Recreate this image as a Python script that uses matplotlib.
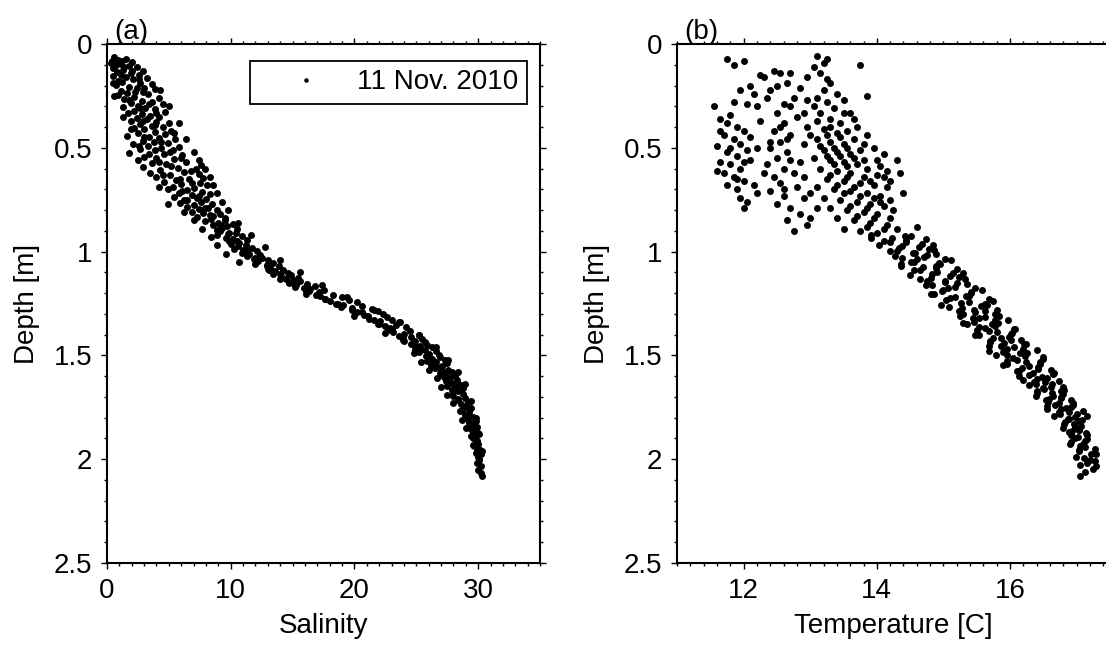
import matplotlib
matplotlib.use("Agg")
import matplotlib.pyplot as plt
from matplotlib.ticker import MultipleLocator, FuncFormatter

plt.rcParams['font.family'] = ['Liberation Sans', 'DejaVu Sans']

# ---------------- Panel (a): salinity profile ----------------
depth_a = [
    0.062, 0.070, 0.075, 0.083, 0.088, 0.094, 0.101, 0.105, 0.112, 0.118,
    0.124, 0.128, 0.135, 0.140, 0.147, 0.152, 0.158, 0.163, 0.170, 0.176,
    0.181, 0.188, 0.193, 0.199, 0.205, 0.212, 0.218, 0.224, 0.230, 0.236,
    0.242, 0.248, 0.255, 0.261, 0.266, 0.273, 0.279, 0.284, 0.291, 0.297,
    0.303, 0.309, 0.315, 0.321, 0.327, 0.333, 0.339, 0.345, 0.351, 0.357,
    0.363, 0.369, 0.375, 0.381, 0.387, 0.393, 0.399, 0.405, 0.411, 0.417,
    0.423, 0.429, 0.435, 0.441, 0.447, 0.453, 0.459, 0.465, 0.471, 0.477,
    0.483, 0.489, 0.495, 0.501, 0.507, 0.513, 0.519, 0.525, 0.531, 0.537,
    0.543, 0.549, 0.555, 0.561, 0.567, 0.573, 0.579, 0.585, 0.591, 0.597,
    0.603, 0.609, 0.615, 0.621, 0.627, 0.633, 0.639, 0.645, 0.651, 0.657,
    0.663, 0.669, 0.675, 0.681, 0.687, 0.693, 0.699, 0.705, 0.711, 0.717,
    0.723, 0.729, 0.735, 0.741, 0.747, 0.753, 0.759, 0.765, 0.771, 0.777,
    0.783, 0.789, 0.795, 0.801, 0.807, 0.813, 0.819, 0.825, 0.831, 0.837,
    0.843, 0.849, 0.855, 0.861, 0.867, 0.873, 0.879, 0.885, 0.891, 0.897,
    0.903, 0.909, 0.915, 0.921, 0.927, 0.933, 0.939, 0.945, 0.951, 0.957,
    0.963, 0.969, 0.975, 0.981, 0.987, 0.993, 0.999, 1.005, 1.011, 1.017,
    1.023, 1.029, 1.035, 1.041, 1.047, 1.053, 1.059, 1.065, 1.071, 1.077,
    1.083, 1.089, 1.095, 1.101, 1.107, 1.113, 1.119, 1.125, 1.131, 1.137,
    1.143, 1.149, 1.155, 1.161, 1.167, 1.173, 1.179, 1.185, 1.191, 1.197,
    1.203, 1.209, 1.215, 1.221, 1.227, 1.233, 1.239, 1.245, 1.251, 1.257,
    1.263, 1.269, 1.275, 1.281, 1.287, 1.293, 1.299, 1.305, 1.311, 1.317,
    1.323, 1.329, 1.335, 1.341, 1.347, 1.353, 1.359, 1.365, 1.371, 1.377,
    1.383, 1.389, 1.395, 1.401, 1.407, 1.413, 1.419, 1.425, 1.431, 1.437,
    1.443, 1.449, 1.455, 1.461, 1.467, 1.473, 1.479, 1.485, 1.491, 1.497,
    1.503, 1.509, 1.515, 1.521, 1.527, 1.533, 1.539, 1.545, 1.551, 1.557,
    1.563, 1.569, 1.575, 1.581, 1.587, 1.593, 1.599, 1.605, 1.611, 1.617,
    1.623, 1.629, 1.635, 1.641, 1.647, 1.653, 1.659, 1.665, 1.671, 1.677,
    1.685, 1.695, 1.705, 1.715, 1.725, 1.735, 1.745, 1.755, 1.765, 1.775,
    1.785, 1.795, 1.805, 1.815, 1.825, 1.835, 1.845, 1.855, 1.865, 1.875,
    1.888, 1.900, 1.912, 1.925, 1.938, 1.950, 1.962, 1.975, 1.990, 2.005,
    2.020, 2.035, 2.050, 2.065, 2.080,
]
salinity_a = [
    0.6, 1.5, 0.9, 0.4, 2.0, 1.1, 0.7, 1.8, 2.4, 0.5,
    1.3, 2.9, 0.8, 1.9, 2.6, 0.5, 1.5, 3.2, 2.1, 0.9,
    1.2, 2.7, 3.6, 0.7, 1.8, 2.4, 3.9, 1.1, 2.9, 1.6,
    3.3, 0.9, 2.2, 4.2, 1.4, 2.8, 3.6, 1.9, 4.5, 2.5,
    1.3, 3.1, 3.9, 2.2, 4.7, 1.7, 2.8, 3.5, 4.2, 2.4,
    3.2, 1.9, 4.0, 5.0, 2.7, 3.6, 4.5, 2.2, 3.0, 5.2,
    3.9, 2.5, 4.7, 1.6, 3.4, 4.2, 5.5, 2.9, 3.8, 4.9,
    2.1, 3.3, 5.8, 4.4, 2.7, 3.9, 5.1, 1.8, 4.6, 6.1,
    3.0, 4.0, 5.4, 2.5, 6.4, 3.6, 4.8, 7.6, 2.9, 5.7,
    7.9, 4.3, 6.2, 3.5, 7.4, 5.1, 4.0, 7.8, 6.6, 5.6,
    4.6, 7.5, 6.0, 8.1, 5.3, 7.0, 4.9, 6.5, 7.7, 5.8,
    8.3, 6.9, 5.4, 7.3, 8.0, 6.2, 7.6, 5.9, 8.5, 7.0,
    6.5, 8.2, 7.4, 8.9, 6.9, 7.8, 9.1, 8.3, 7.3, 9.5,
    8.4, 9.5, 7.9, 9.0, 10.2, 8.6, 9.7, 9.3, 10.5, 8.9,
    9.1, 10.4, 9.8, 8.9, 10.9, 9.6, 10.2, 11.3, 9.9, 10.7,
    10.0, 11.2, 10.6, 11.7, 10.3, 11.0, 12.1, 10.9, 11.5, 12.4,
    11.3, 12.5, 11.9, 13.0, 12.2, 13.4, 12.0, 12.9, 13.9, 13.2,
    13.0, 14.2, 13.6, 14.6, 13.4, 14.9, 14.1, 15.4, 14.5, 15.0,
    15.6, 14.7, 16.2, 15.3, 16.8, 15.9, 16.4, 17.5, 16.1, 17.1,
    16.1, 18.3, 17.2, 19.0, 17.6, 19.6, 18.0, 20.2, 18.7, 19.1,
    20.6, 18.9, 21.4, 19.8, 21.9, 20.2, 22.3, 20.8, 21.1, 22.6,
    21.2, 23.0, 22.1, 23.7, 21.9, 23.4, 22.5, 24.2, 23.0, 22.7,
    24.5, 23.1, 24.0, 25.2, 23.6, 24.6, 25.5, 23.9, 24.9, 25.7,
    24.6, 25.9, 25.3, 26.3, 24.9, 25.7, 26.6, 25.2, 26.0, 26.8,
    25.8, 26.9, 26.3, 27.3, 25.9, 26.6, 27.5, 26.2, 27.1, 26.7,
    26.5, 27.6, 27.1, 27.9, 26.9, 27.4, 28.1, 27.2, 27.7, 28.3,
    27.4, 28.3, 27.8, 28.6, 27.5, 28.1, 28.8, 27.9, 28.4, 28.0,
    28.8, 28.0, 28.9, 28.4, 29.2, 28.6, 29.0, 29.4, 28.7, 29.3,
    28.9, 29.6, 29.2, 29.8, 29.3, 29.5, 29.9, 29.4, 29.7, 30.0,
    29.8, 29.6, 29.9, 30.0, 29.7, 30.1, 29.9, 30.2, 30.0, 30.1,
    29.9, 30.2, 30.0, 30.2, 30.3,
]
depth_a2 = [
    0.08, 0.09, 0.11, 0.13, 0.15, 0.17, 0.19, 0.21, 0.23, 0.25,
    0.27, 0.29, 0.31, 0.33, 0.35, 0.37, 0.39, 0.41, 0.43, 0.45,
    0.47, 0.49, 0.51, 0.53, 0.55, 0.57, 0.59, 0.61, 0.63, 0.65,
    0.67, 0.69, 0.71, 0.73, 0.75, 0.77, 0.79, 0.81, 0.83, 0.85,
    0.87, 0.89, 0.91, 0.93, 0.95, 0.97, 0.99, 1.01, 1.03, 1.05,
    1.07, 1.09, 1.11, 1.13, 1.15, 1.17, 1.19, 1.21, 1.23, 1.25,
    1.27, 1.29, 1.31, 1.33, 1.35, 1.37, 1.39, 1.41, 1.43, 1.45,
    1.47, 1.49, 1.51, 1.53, 1.55, 1.57, 1.59, 1.61, 1.63, 1.65,
    1.67, 1.69, 1.71, 1.73, 1.75, 1.77, 1.79, 1.81, 1.83, 1.85,
    1.87, 1.89, 1.91, 1.93, 1.95, 1.97, 2.00, 0.22, 0.30, 0.38,
    0.46, 0.52, 0.56, 0.60, 0.64, 0.68, 0.72, 0.76, 0.80, 0.86,
    0.92, 0.98, 1.04, 1.10, 1.16, 1.22, 1.28, 1.34, 1.40, 1.46,
    1.52, 1.58, 1.64, 1.72, 1.80, 1.88, 1.96,
]
salinity_a2 = [
    1.2, 0.3, 1.4, 2.0, 1.1, 2.6, 0.5, 3.0, 2.3, 0.6,
    1.8, 3.4, 2.7, 4.0, 1.3, 2.9, 3.9, 1.9, 5.4, 3.0,
    4.4, 2.6, 5.3, 3.4, 6.0, 4.2, 5.2, 6.8, 4.5, 5.9,
    6.9, 4.2, 6.1, 7.4, 6.5, 4.9, 7.9, 6.2, 8.6, 7.0,
    9.2, 7.7, 9.9, 8.4, 10.5, 8.9, 11.3, 9.6, 12.0, 10.7,
    12.9, 13.1, 14.0, 14.0, 15.0, 15.2, 16.3, 16.9, 17.6, 18.5,
    19.8, 20.6, 20.0, 21.6, 22.0, 22.9, 22.5, 23.9, 24.0, 24.9,
    25.3, 24.8, 26.0, 25.4, 26.5, 26.0, 27.0, 26.7, 27.5, 27.0,
    28.0, 27.5, 28.4, 28.0, 28.9, 28.5, 29.1, 28.7, 29.5, 29.0,
    29.6, 29.4, 29.9, 29.6, 30.0, 29.8, 30.1, 4.3, 5.0, 5.8,
    6.4, 7.0, 7.4, 7.2, 8.3, 8.6, 8.9, 9.3, 9.8, 10.6,
    11.6, 12.8, 14.0, 15.6, 17.4, 19.4, 21.6, 23.6, 25.2, 26.6,
    27.6, 28.4, 28.9, 29.4, 29.8, 30.1, 30.3,
]

# ---------------- Panel (b): temperature profile ----------------
# upper, mixed part of the profile
temperature_b_up = [
    11.75, 11.85, 12.00, 12.25, 12.30, 12.45, 12.55, 12.70, 12.10, 11.95,
    12.15, 12.05, 12.40, 12.50, 12.65, 12.85, 12.95, 13.05, 13.10, 13.20,
    13.25, 13.15, 13.25, 13.75, 13.85, 12.95, 13.10, 13.20, 13.30, 12.75,
    12.60, 11.55, 11.85, 11.65, 11.75, 11.80, 11.90, 12.00, 11.70, 11.85,
    11.95, 12.10, 11.60, 11.75, 11.90, 12.05, 11.65, 11.80, 11.95, 12.10,
    11.70, 11.85, 12.00, 11.75, 11.90, 12.15, 11.95, 12.05, 12.00, 12.20,
    11.60, 12.20, 12.25, 12.50, 12.60, 12.45, 12.70, 12.55, 12.40, 12.65,
    12.50, 12.35, 12.60, 12.75, 12.45, 12.55, 12.80, 12.40, 12.60, 12.90,
    12.50, 12.70, 12.85, 12.65, 12.95, 12.75, 13.00, 12.30, 12.85, 12.90,
    12.80, 12.95, 12.70, 13.05, 13.15, 13.25, 13.35, 13.10, 13.30, 13.45,
    13.20, 13.40, 13.55, 13.10, 13.30, 13.50, 13.65, 13.20, 13.40, 13.60,
    13.75, 13.05, 13.30, 13.50, 13.70, 13.15, 13.40, 13.60, 13.85, 14.05,
    14.15, 14.10, 14.20, 14.00, 14.15, 13.25, 13.50, 13.75, 13.95, 13.10,
    13.35, 13.60, 13.85, 14.05, 13.20, 13.45, 13.70, 13.90, 14.10, 13.30,
    13.55, 13.80, 14.00, 14.25, 13.40, 13.65, 13.90, 14.15, 13.50, 13.75,
    14.00, 14.30, 13.60, 13.50, 13.40, 13.70, 13.85, 13.95, 14.10, 14.30,
    14.40, 14.35, 13.00, 13.25, 13.45, 13.15, 13.35, 13.55, 13.25, 13.45,
    13.65, 13.35, 13.55, 13.80, 13.30, 13.55, 13.80, 13.40, 13.65, 13.90,
    13.50, 13.75, 13.95, 13.60, 13.85, 14.05, 13.70, 13.95, 14.20, 13.85,
    14.10, 12.90, 13.00, 13.10, 12.60, 12.70, 12.65, 12.55, 12.90, 13.30,
    13.50, 13.65, 13.80, 14.00, 14.20, 12.35, 12.20, 12.40, 11.80, 12.00,
    11.90, 11.65, 14.60,
]
depth_b_up = [
    0.07, 0.10, 0.08, 0.15, 0.16, 0.13, 0.14, 0.14, 0.20, 0.22,
    0.24, 0.29, 0.22, 0.20, 0.19, 0.21, 0.16, 0.11, 0.06, 0.09,
    0.07, 0.14, 0.17, 0.10, 0.25, 0.27, 0.26, 0.22, 0.19, 0.26,
    0.29, 0.30, 0.28, 0.36, 0.38, 0.34, 0.40, 0.42, 0.44, 0.46,
    0.48, 0.45, 0.49, 0.52, 0.54, 0.51, 0.57, 0.58, 0.60, 0.56,
    0.62, 0.64, 0.66, 0.68, 0.70, 0.68, 0.74, 0.76, 0.79, 0.72,
    0.61, 0.50, 0.37, 0.33, 0.38, 0.42, 0.44, 0.47, 0.50, 0.52,
    0.55, 0.58, 0.60, 0.62, 0.64, 0.67, 0.69, 0.71, 0.73, 0.74,
    0.77, 0.79, 0.82, 0.85, 0.87, 0.90, 0.84, 0.62, 0.57, 0.48,
    0.35, 0.40, 0.30, 0.30, 0.33, 0.28, 0.31, 0.37, 0.36, 0.38,
    0.41, 0.43, 0.42, 0.46, 0.47, 0.48, 0.46, 0.51, 0.52, 0.53,
    0.51, 0.55, 0.56, 0.57, 0.58, 0.60, 0.61, 0.62, 0.60, 0.59,
    0.61, 0.64, 0.66, 0.63, 0.69, 0.65, 0.66, 0.67, 0.68, 0.69,
    0.70, 0.71, 0.72, 0.73, 0.74, 0.75, 0.76, 0.77, 0.78, 0.79,
    0.80, 0.81, 0.82, 0.80, 0.84, 0.85, 0.86, 0.87, 0.89, 0.90,
    0.91, 0.89, 0.33, 0.27, 0.24, 0.40, 0.44, 0.50, 0.53, 0.56,
    0.72, 0.62, 0.44, 0.44, 0.45, 0.49, 0.50, 0.50, 0.54, 0.54,
    0.55, 0.58, 0.59, 0.56, 0.63, 0.64, 0.64, 0.68, 0.69, 0.66,
    0.72, 0.73, 0.74, 0.78, 0.79, 0.76, 0.83, 0.84, 0.84, 0.88,
    0.89, 0.64, 0.72, 0.79, 0.70, 0.56, 0.46, 0.40, 0.33, 0.40,
    0.33, 0.36, 0.48, 0.56, 0.75, 0.26, 0.30, 0.47, 0.50, 0.57,
    0.65, 0.42, 0.88,
]
# lower, well-ordered part of the profile
temperature_b_low = [
    13.91, 14.43, 14.23, 14.74, 14.10, 14.44, 14.68, 14.03, 14.64, 14.34,
    14.86, 14.30, 14.55, 14.89, 14.28, 14.71, 14.60, 15.11, 14.51, 14.94,
    14.37, 14.89, 14.69, 15.20, 14.56, 14.90, 15.14, 14.50, 15.10, 14.81,
    15.33, 14.76, 15.02, 15.36, 14.74, 15.18, 15.07, 15.58, 14.98, 15.42,
    14.86, 15.38, 15.17, 15.69, 15.04, 15.38, 15.62, 14.97, 15.57, 15.28,
    15.80, 15.23, 15.48, 15.77, 15.25, 15.63, 15.53, 15.97, 15.46, 15.82,
    15.35, 15.78, 15.62, 16.06, 15.51, 15.80, 16.02, 15.47, 15.98, 15.74,
    16.17, 15.70, 15.91, 16.21, 15.69, 16.06, 15.96, 16.41, 15.90, 16.26,
    15.79, 16.22, 16.05, 16.50, 15.95, 16.24, 16.45, 15.90, 16.42, 16.18,
    16.61, 16.14, 16.35, 16.65, 16.13, 16.48, 16.41, 16.73, 16.36, 16.63,
    16.29, 16.61, 16.49, 16.81, 16.41, 16.63, 16.79, 16.39, 16.77, 16.59,
    16.91, 16.57, 16.73, 16.95, 16.56, 16.84, 16.77, 17.10, 16.73, 17.00,
    16.66, 16.97, 16.87, 17.08, 16.82, 16.96, 17.06, 16.80, 17.04, 16.93,
    17.14, 16.92, 17.02, 17.16, 16.92, 17.10, 17.05, 17.27, 17.03, 17.21,
    16.99, 17.20, 17.16, 17.29, 17.25, 17.12, 17.05,
]
depth_b_low = [
    0.920, 0.927, 0.935, 0.941, 0.950, 0.956, 0.963, 0.970, 0.978, 0.984,
    0.991, 0.999, 1.006, 1.012, 1.020, 1.027, 1.034, 1.040, 1.048, 1.055,
    1.062, 1.069, 1.076, 1.083, 1.091, 1.098, 1.104, 1.112, 1.119, 1.126,
    1.133, 1.141, 1.148, 1.155, 1.162, 1.170, 1.177, 1.184, 1.191, 1.199,
    1.206, 1.213, 1.221, 1.228, 1.235, 1.243, 1.250, 1.257, 1.264, 1.272,
    1.279, 1.286, 1.293, 1.300, 1.308, 1.315, 1.322, 1.330, 1.337, 1.344,
    1.351, 1.358, 1.366, 1.373, 1.380, 1.388, 1.395, 1.402, 1.409, 1.417,
    1.424, 1.431, 1.438, 1.446, 1.453, 1.460, 1.468, 1.475, 1.482, 1.489,
    1.497, 1.504, 1.511, 1.519, 1.526, 1.533, 1.540, 1.548, 1.555, 1.562,
    1.570, 1.577, 1.584, 1.592, 1.599, 1.606, 1.614, 1.621, 1.628, 1.636,
    1.643, 1.650, 1.658, 1.665, 1.672, 1.680, 1.687, 1.694, 1.702, 1.709,
    1.716, 1.724, 1.731, 1.738, 1.746, 1.753, 1.760, 1.768, 1.775, 1.782,
    1.790, 1.797, 1.805, 1.813, 1.822, 1.830, 1.839, 1.848, 1.857, 1.866,
    1.876, 1.885, 1.895, 1.905, 1.916, 1.927, 1.938, 1.950, 1.962, 1.975,
    1.988, 2.002, 2.018, 2.033, 2.045, 2.062, 2.080,
]
temperature_b_low2 = [
    14.51, 13.91, 14.44, 14.20, 14.85, 14.38, 14.78, 14.20, 14.58, 14.75,
    14.38, 15.02, 14.56, 14.95, 14.37, 14.89, 14.65, 15.30, 14.83, 15.23,
    14.65, 15.03, 15.20, 14.83, 15.47, 15.00, 15.41, 14.81, 15.34, 15.10,
    15.74, 15.27, 15.66, 15.09, 15.46, 15.62, 15.29, 15.83, 15.45, 15.78,
    15.29, 15.73, 15.54, 16.08, 15.69, 16.03, 15.54, 15.86, 16.01, 15.70,
    16.24, 15.86, 16.19, 15.69, 16.15, 15.95, 16.49, 16.10, 16.45, 15.96,
    16.28, 16.42, 16.11, 16.66, 16.28, 16.56, 16.20, 16.53, 16.39, 16.80,
    16.51, 16.76, 16.41, 16.65, 16.76, 16.54, 16.94, 16.67, 16.91, 16.55,
    16.89, 16.75, 17.16, 16.88, 17.04, 16.81, 16.97, 17.03, 16.89, 17.15,
    16.97, 17.13, 16.90, 17.12, 17.03, 17.29, 17.11, 17.28, 17.05,
]
depth_b_low2 = [
    0.924, 0.933, 0.945, 0.953, 0.966, 0.975, 0.986, 0.995, 1.008, 1.017,
    1.029, 1.037, 1.049, 1.058, 1.071, 1.079, 1.090, 1.101, 1.110, 1.122,
    1.131, 1.143, 1.152, 1.163, 1.174, 1.183, 1.195, 1.204, 1.216, 1.225,
    1.237, 1.246, 1.258, 1.267, 1.279, 1.288, 1.300, 1.309, 1.321, 1.330,
    1.342, 1.351, 1.362, 1.372, 1.383, 1.393, 1.404, 1.414, 1.425, 1.436,
    1.446, 1.457, 1.468, 1.478, 1.489, 1.500, 1.510, 1.521, 1.532, 1.542,
    1.553, 1.564, 1.574, 1.585, 1.596, 1.607, 1.618, 1.628, 1.639, 1.650,
    1.661, 1.672, 1.683, 1.694, 1.705, 1.716, 1.727, 1.738, 1.749, 1.760,
    1.771, 1.783, 1.794, 1.806, 1.818, 1.831, 1.844, 1.857, 1.870, 1.884,
    1.898, 1.912, 1.927, 1.943, 1.958, 1.975, 1.992, 2.010, 2.028,
]

legend_label = "11 Nov. 2010"
panel_labels = ["(a)", "(b)"]

FS = 20
W, H = 1106, 645
fig = plt.figure(figsize=(W / 100, H / 100), dpi=100)

def px_axes(left, right, top, bottom):
    return fig.add_axes([left / W, 1 - bottom / H, (right - left) / W, (bottom - top) / H])

ax_a = px_axes(107, 540, 44, 563)
ax_b = px_axes(677, 1110, 44, 563)

def style(ax, xmaj, xmin):
    for s in ax.spines.values():
        s.set_linewidth(1.5)
    ax.set_ylim(2.5, 0)
    ax.yaxis.set_major_locator(MultipleLocator(0.5))
    ax.yaxis.set_minor_locator(MultipleLocator(0.1))
    ax.xaxis.set_major_locator(MultipleLocator(xmaj))
    ax.xaxis.set_minor_locator(MultipleLocator(xmin))
    ax.tick_params(which='both', direction='out', top=True, right=True,
                   labeltop=False, labelright=False, labelsize=FS, width=1.0)
    ax.tick_params(which='major', length=4.5, pad=6)
    ax.tick_params(which='minor', length=2.5)
    ax.yaxis.set_major_formatter(FuncFormatter(lambda v, p: f"{v:g}"))
    ax.set_ylabel("Depth [m]", fontsize=FS, labelpad=10)

ms = 5.0
ax_a.plot(salinity_a + salinity_a2, depth_a + depth_a2, 'o', color='k', ms=ms, mew=0,
          linestyle='none', label=legend_label)
ax_a.set_xlim(0, 35)
style(ax_a, 10, 1)
ax_a.set_xlabel("Salinity", fontsize=FS, labelpad=7)

ax_b.plot(temperature_b_up + temperature_b_low + temperature_b_low2,
          depth_b_up + depth_b_low + depth_b_low2, 'o',
          color='k', ms=ms, mew=0, linestyle='none')
ax_b.set_xlim(11, 17.5)
style(ax_b, 2, 0.2)
ax_b.set_xlabel("Temperature [C]", fontsize=FS, labelpad=7)

leg = ax_a.legend(loc='upper right', bbox_to_anchor=(0.970, 0.967), borderaxespad=0,
                  fontsize=FS, frameon=True, fancybox=False, framealpha=1,
                  edgecolor='k', handlelength=3.4, handletextpad=0.15,
                  borderpad=0.3, markerscale=0.65)
leg.get_frame().set_linewidth(1.3)

for ax, lab in zip([ax_a, ax_b], panel_labels):
    ax.text(0.016, 1.01, lab, transform=ax.transAxes, fontsize=FS,
            ha='left', va='baseline')

fig.savefig("out.png", dpi=100)
